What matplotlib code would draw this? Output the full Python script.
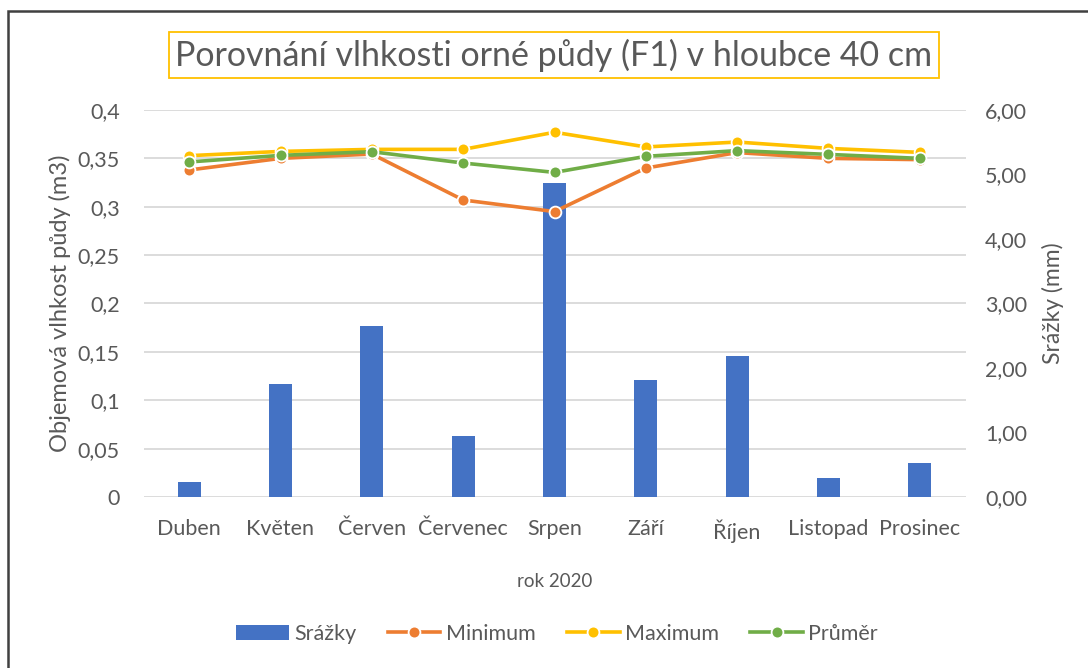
import numpy as np
import matplotlib
matplotlib.use('Agg')
import matplotlib.pyplot as plt
from matplotlib.patches import Rectangle

plt.rcParams['font.family'] = ['Lato', 'DejaVu Sans']

mesice = ['Duben', 'Květen', 'Červen', 'Červenec', 'Srpen', 'Září', 'Říjen', 'Listopad', 'Prosinec']
srazky = [0.23, 1.75, 2.65, 0.94, 4.87, 1.81, 2.19, 0.29, 0.53]
minimum = [0.338, 0.350, 0.3545, 0.307, 0.295, 0.340, 0.356, 0.350, 0.3487]
maximum = [0.3528, 0.3572, 0.3593, 0.3593, 0.377, 0.3618, 0.3669, 0.3603, 0.3562]
prumer = [0.3463, 0.3531, 0.3569, 0.3452, 0.3355, 0.3521, 0.358, 0.3541, 0.350]

levy_ticks = [0, 0.05, 0.1, 0.15, 0.2, 0.25, 0.3, 0.35, 0.4]
levy_labels = ['0', '0,05', '0,1', '0,15', '0,2', '0,25', '0,3', '0,35', '0,4']
pravy_ticks = [0, 1, 2, 3, 4, 5, 6]
pravy_labels = ['0,00', '1,00', '2,00', '3,00', '4,00', '5,00', '6,00']

TXT = '#595959'
GRID = '#D9D9D9'
C_BAR = '#4472C4'
C_MIN = '#ED7D31'
C_MAX = '#FFC000'
C_PRU = '#70AD47'
FS = 15.5

fig = plt.figure(figsize=(10.88, 6.68), dpi=100)
fig.patches.append(Rectangle((8 / 1088, -0.1), 1.2, 1.1 - 11 / 668,
                             transform=fig.transFigure, fill=False,
                             edgecolor='#404040', linewidth=1.8))

pos = [143.5 / 1088, 1 - 497 / 668, 822 / 1088, 387 / 668]
ax = fig.add_axes(pos)
x = np.arange(len(mesice))

# osa vlevo: mrizka + popisky
ax.set_ylim(0, 0.4)
ax.set_xlim(-0.5, len(mesice) - 0.5)
ax.set_yticks(levy_ticks)
ax.set_yticklabels(levy_labels)
ax.grid(axis='y', color=GRID, linewidth=1.3)
ax.set_axisbelow(True)
ax.set_xticks(x)
ax.set_xticklabels(mesice)
for s in ax.spines.values():
    s.set_visible(False)
ax.tick_params(length=0, labelsize=FS, colors=TXT)
ax.tick_params(axis='x', pad=16)
ax.tick_params(axis='y', pad=17)
ax.set_ylabel('Objemová vlhkost půdy (m3)', fontsize=17, color=TXT, labelpad=5)
ax.set_xlabel('rok 2020', fontsize=13.5, color=TXT, labelpad=22)

# osa vpravo: srazky
ax2 = ax.twinx()
ax2.set_ylim(0, 6)
b = ax2.bar(x, srazky, width=0.25, color=C_BAR, label='Srážky', zorder=2)
ax2.set_yticks(pravy_ticks)
ax2.set_yticklabels(pravy_labels)
for s in ax2.spines.values():
    s.set_visible(False)
ax2.tick_params(length=0, labelsize=FS, colors=TXT, pad=14)
ax2.set_ylabel('Srážky (mm)', fontsize=16.5, color=TXT, labelpad=11)

# cary nad sloupci (vlastni osa se stejnym meritkem jako leva)
ax3 = fig.add_axes(pos, sharex=ax)
ax3.set_ylim(0, 0.4)
ax3.axis('off')
styl = dict(marker='o', markersize=8.5, markeredgecolor='white', markeredgewidth=1.3,
            linewidth=2.6)
l1, = ax3.plot(x, minimum, color=C_MIN, label='Minimum', zorder=2, **styl)
l2, = ax3.plot(x, maximum, color=C_MAX, label='Maximum', zorder=3, **styl)
l3, = ax3.plot(x, prumer, color=C_PRU, label='Průměr', zorder=4, **styl)

fig.text(554 / 1088, 1 - 55 / 668, 'Porovnání vlhkosti orné půdy (F1) v hloubce 40 cm',
         ha='center', va='center', fontsize=24.5, color=TXT,
         bbox=dict(boxstyle='square,pad=0.2', facecolor='white', edgecolor=C_MAX, linewidth=1.3))

fig.legend([b, l1, l2, l3], ['Srážky', 'Minimum', 'Maximum', 'Průměr'],
           loc='center', bbox_to_anchor=(557 / 1088, 1 - 634 / 668), ncol=4,
           frameon=False, fontsize=FS, labelcolor=TXT, handlelength=2.45,
           columnspacing=1.45, handletextpad=0.25)

fig.savefig('out.png', dpi=100)
